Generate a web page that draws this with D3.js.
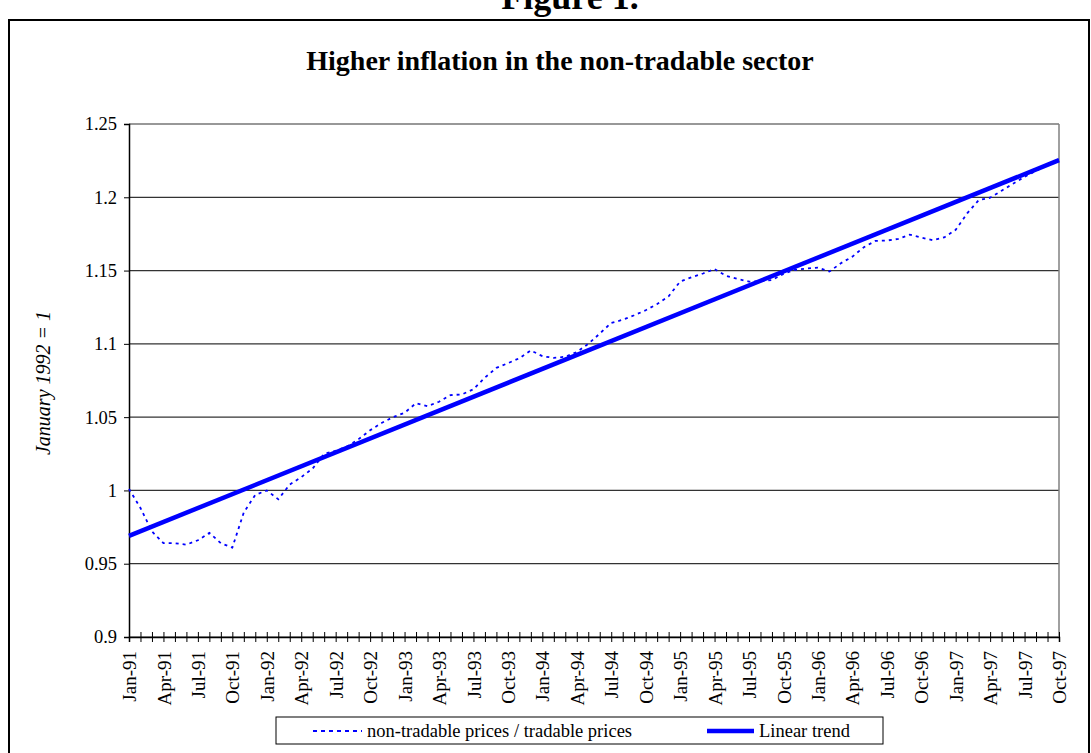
<!DOCTYPE html>
<html><head><meta charset="utf-8">
<script src="https://cdn.jsdelivr.net/npm/d3@7"></script>
<style>
body{margin:0;background:#fff}
svg{display:block}
text{font-family:"Liberation Serif","Times New Roman",serif;fill:#000}
</style>
</head><body>
<svg id="c" width="1091" height="753"></svg>
<script>
const months = [
 "Jan-91","Feb-91","Mar-91","Apr-91","May-91","Jun-91","Jul-91","Aug-91","Sep-91","Oct-91","Nov-91","Dec-91",
 "Jan-92","Feb-92","Mar-92","Apr-92","May-92","Jun-92","Jul-92","Aug-92","Sep-92","Oct-92","Nov-92","Dec-92",
 "Jan-93","Feb-93","Mar-93","Apr-93","May-93","Jun-93","Jul-93","Aug-93","Sep-93","Oct-93","Nov-93","Dec-93",
 "Jan-94","Feb-94","Mar-94","Apr-94","May-94","Jun-94","Jul-94","Aug-94","Sep-94","Oct-94","Nov-94","Dec-94",
 "Jan-95","Feb-95","Mar-95","Apr-95","May-95","Jun-95","Jul-95","Aug-95","Sep-95","Oct-95","Nov-95","Dec-95",
 "Jan-96","Feb-96","Mar-96","Apr-96","May-96","Jun-96","Jul-96","Aug-96","Sep-96","Oct-96","Nov-96","Dec-96",
 "Jan-97","Feb-97","Mar-97","Apr-97","May-97","Jun-97","Jul-97","Aug-97","Sep-97","Oct-97"
];
const ratio = [
 1.001,0.988,0.972,0.964,0.964,0.963,0.966,0.971,0.964,0.961,0.985,0.997,
 1.000,0.994,1.004,1.009,1.015,1.025,1.027,1.030,1.035,1.041,1.046,1.050,
 1.053,1.0595,1.0575,1.0605,1.065,1.0655,1.069,1.077,1.0836,1.0868,1.0902,1.0955,
 1.0916,1.0904,1.0912,1.0944,1.100,1.107,1.1143,1.1164,1.1195,1.1229,1.1272,1.1325,
 1.1425,1.1455,1.148,1.151,1.1464,1.1443,1.1425,1.1427,1.1436,1.1477,1.1505,1.1514,
 1.152,1.1493,1.155,1.1595,1.1659,1.1702,1.1705,1.1716,1.1745,1.1725,1.1707,1.1726,
 1.1778,1.189,1.198,1.1997,1.2045,1.2093,1.214,1.218,1.2225,1.226
];
const trendMonths = ["Jan-91","Oct-97"];
const trendValues = [0.969,1.2253];
const xTickLabels = ["Jan-91","Apr-91","Jul-91","Oct-91","Jan-92","Apr-92","Jul-92","Oct-92",
 "Jan-93","Apr-93","Jul-93","Oct-93","Jan-94","Apr-94","Jul-94","Oct-94","Jan-95","Apr-95",
 "Jul-95","Oct-95","Jan-96","Apr-96","Jul-96","Oct-96","Jan-97","Apr-97","Jul-97","Oct-97"];
const yTicks = [0.9,0.95,1,1.05,1.1,1.15,1.2,1.25];

const svg = d3.select("#c");
const L = 129, R = 1059, T = 124, B = 637;
const x = d3.scalePoint().domain(months).range([L, R]);
const y = d3.scaleLinear().domain([0.9, 1.25]).range([B, T]);

// outer frame
svg.append("rect").attr("x",9).attr("y",20).attr("width",1080).attr("height",800)
  .attr("fill","none").attr("stroke","#000").attr("stroke-width",2);

svg.append("text").attr("x",570).attr("y",9).attr("text-anchor","middle")
  .style("font-weight","bold").style("font-size","36px").text("Figure 1.");
svg.append("text").attr("x",560).attr("y",70).attr("text-anchor","middle")
  .style("font-weight","bold").style("font-size","28px").text("Higher inflation in the non-tradable sector");

// gridlines
svg.append("g").selectAll("line").data(yTicks).join("line")
  .attr("x1",L).attr("x2",R).attr("y1",d=>y(d)).attr("y2",d=>y(d))
  .attr("stroke","#333").attr("stroke-width",1.2);
// right plot border
svg.append("line").attr("x1",R).attr("x2",R).attr("y1",T).attr("y2",B)
  .attr("stroke","#808080").attr("stroke-width",1.5);

// y axis
const ya = svg.append("g").attr("transform",`translate(${L},0)`)
  .call(d3.axisLeft(y).tickValues(yTicks).tickSize(5).tickPadding(7).tickFormat(d=>String(d)));
ya.select(".domain").attr("stroke","#000").attr("stroke-width",1.5);
ya.selectAll("text").style("font-size","18.5px").style("font-family","Liberation Serif");

// x axis
const xa = svg.append("g").attr("transform",`translate(0,${B})`)
  .call(d3.axisBottom(x).tickValues(months).tickSize(5).tickPadding(0)
    .tickFormat(d=>xTickLabels.includes(d)?d:""));
xa.select(".domain").attr("stroke","#000").attr("stroke-width",1.5);
xa.selectAll(".tick line").attr("y1",-5).attr("y2",5).attr("stroke","#000");
xa.selectAll("text").attr("transform","rotate(-90)").attr("text-anchor","end")
  .attr("x",-14).attr("y",0).attr("dy","0.35em")
  .style("font-size","19px").style("font-family","Liberation Serif");

// y title
svg.append("text").attr("transform","translate(50,383) rotate(-90)").attr("text-anchor","middle")
  .style("font-style","italic").style("font-size","20px").text("January 1992 = 1");

// series
const line = d3.line().x(d=>x(d[0])).y(d=>y(d[1]));
svg.append("path").datum(months.map((m,i)=>[m,ratio[i]])).attr("d",line)
  .attr("fill","none").attr("stroke","#0000ff").attr("stroke-width",1.8).attr("stroke-dasharray","3,4");
svg.append("path").datum(trendMonths.map((m,i)=>[m,trendValues[i]])).attr("d",line)
  .attr("fill","none").attr("stroke","#0000ff").attr("stroke-width",4.5);

// legend
const lg = svg.append("g");
lg.append("rect").attr("x",276).attr("y",717).attr("width",607).attr("height",27)
  .attr("fill","#fff").attr("stroke","#000").attr("stroke-width",1);
lg.append("line").attr("x1",313).attr("x2",362).attr("y1",731).attr("y2",731)
  .attr("stroke","#0000ff").attr("stroke-width",1.8).attr("stroke-dasharray","4,4");
lg.append("text").attr("x",367).attr("y",737).style("font-size","18.5px")
  .text("non-tradable prices / tradable prices");
lg.append("line").attr("x1",707).attr("x2",754).attr("y1",731).attr("y2",731)
  .attr("stroke","#0000ff").attr("stroke-width",4.5);
lg.append("text").attr("x",759).attr("y",737).style("font-size","18.5px").text("Linear trend");
</script>
</body></html>
